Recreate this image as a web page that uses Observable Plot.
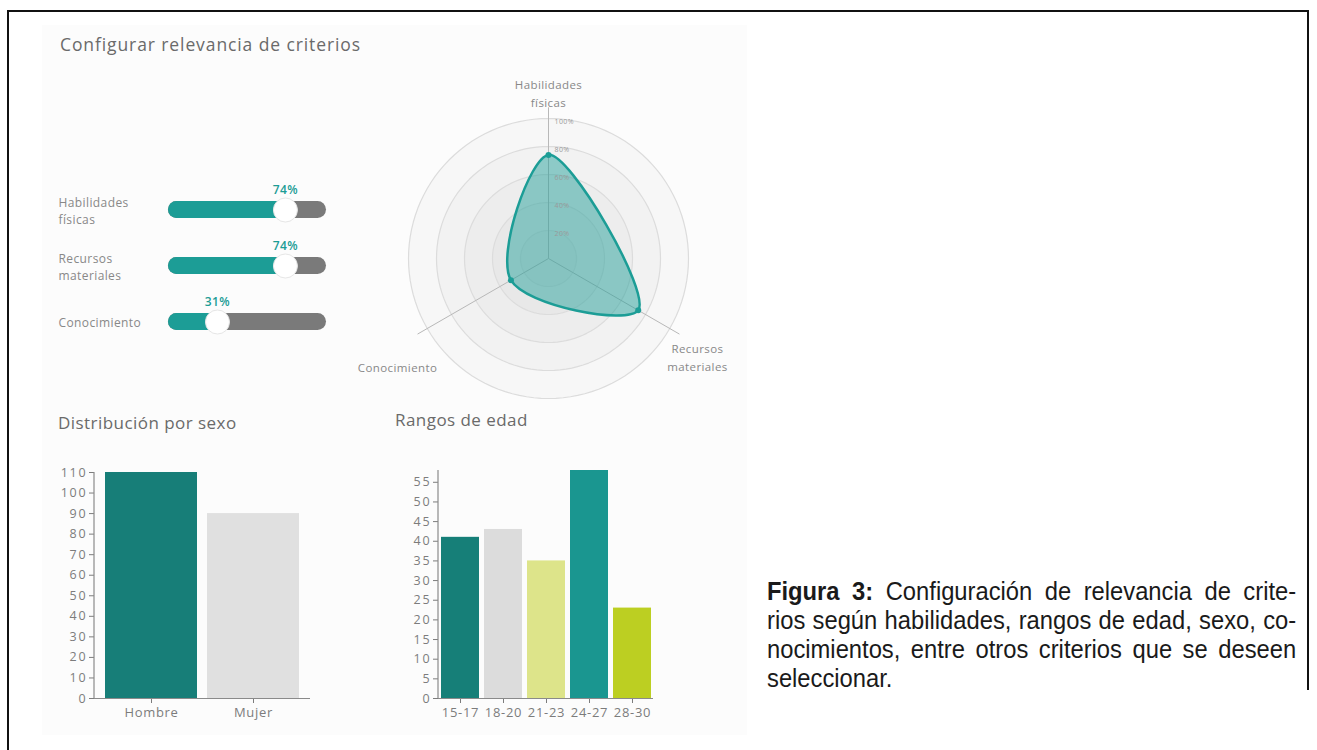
<!DOCTYPE html>
<html><head><meta charset="utf-8">
<script src="https://cdn.jsdelivr.net/npm/d3@7"></script>
<script src="https://cdn.jsdelivr.net/npm/@observablehq/plot@0.6"></script>
<style>
body{margin:0;width:1317px;height:750px;position:relative;background:#fff;overflow:hidden;font-family:"Open Sans",sans-serif}
.abs{position:absolute}
.title{position:absolute;color:#6a6a6a;font-size:17px;letter-spacing:0.45px;white-space:nowrap}
#caption{position:absolute;left:767px;top:577px;width:557px;transform:scaleX(0.95);transform-origin:0 0;font-family:"Liberation Sans",Arial,sans-serif;font-size:25px;line-height:29px;color:#1a1a1a}
#caption div{height:29px;text-align:justify;text-align-last:justify;white-space:nowrap}
#caption div.last{text-align-last:left}
#sex g[aria-label="y-axis tick label"] text, #age g[aria-label="y-axis tick label"] text{letter-spacing:1.8px}
#sex g[aria-label="x-axis tick label"] text, #age g[aria-label="x-axis tick label"] text{letter-spacing:0.7px}
#sliders text, #radar text{letter-spacing:0.4px}
</style></head><body>
<div class="abs" style="left:7px;top:10px;width:1302px;height:2px;background:#111"></div>
<div class="abs" style="left:7px;top:10px;width:2px;height:740px;background:#111"></div>
<div class="abs" style="left:1307px;top:10px;width:2px;height:680px;background:#111"></div>
<div class="abs" style="left:42px;top:25px;width:705px;height:710px;background:#fcfcfc"></div>
<div class="title" style="left:60px;top:32px;font-size:17.5px;letter-spacing:0.9px">Configurar relevancia de criterios</div>
<div class="title" style="left:58px;top:411px">Distribución por sexo</div>
<div class="title" style="left:395px;top:408px">Rangos de edad</div>
<div id="sliders" class="abs" style="left:40px;top:170px"></div>
<div id="radar" class="abs" style="left:338px;top:70px"></div>
<div id="sex" class="abs" style="left:40px;top:430px"></div>
<div id="age" class="abs" style="left:390px;top:430px"></div>
<div id="caption">
<div><b>Figura 3:</b> Configuración de relevancia de crite-</div>
<div>rios según habilidades, rangos de edad, sexo, co-</div>
<div>nocimientos, entre otros criterios que se deseen</div>
<div class="last">seleccionar.</div>
</div>
<script>
// ---- data ----
const criteria = ["Habilidades físicas", "Recursos materiales", "Conocimiento"];
const criteriaLabels = ["Habilidades\nfísicas", "Recursos\nmateriales", "Conocimiento"];
const relevance = [74, 74, 31];
const axisAngles = [0, 120, 240];
const radarLevels = [20, 40, 60, 80, 100];
const sexes = ["Hombre", "Mujer"];
const sexCounts = [110, 90];
const sexColors = ["#177e78", "#e0e0e0"];
const ageRanges = ["15-17", "18-20", "21-23", "24-27", "28-30"];
const ageCounts = [41, 43, 35, 58, 23];
const ageColors = ["#167f78", "#dcdcdc", "#dde48a", "#1a9690", "#bccf22"];
const sexTicks = d3.range(0, 111, 10);
const ageTicks = d3.range(0, 56, 5);

const TEAL = "#1c9d96";
const GREY_TXT = "#888";
const AXIS_TXT = "#7c7c7c";
const FONT = "'Open Sans', sans-serif";

// ---- sliders ----
const sliderData = criteria.map((c, i) => ({c, label: criteriaLabels[i], v: relevance[i]}));
document.getElementById("sliders").append(Plot.plot({
  width: 300, height: 190, marginLeft: 18,
  style: {fontFamily: FONT, background: "transparent", color: GREY_TXT},
  x: {domain: [0, 100], range: [128, 286], axis: null},
  y: {type: "band", domain: criteria, range: [10.75, 180.25], paddingInner: 0.7, paddingOuter: 0.35, axis: null},
  marks: [
    Plot.barX(sliderData, {y: "c", x1: 0, x2: 100, fill: "#7a7a7a", rx: 8.5}),
    Plot.barX(sliderData, {y: "c", x1: 0, x2: "v", fill: TEAL, rx: 8.5}),
    Plot.dot(sliderData, {y: "c", x: "v", r: 12, fill: "#fff", stroke: "#e6e6e6", strokeWidth: 1}),
    Plot.text(sliderData, {y: "c", x: "v", text: d => d.v + "%", dy: -20, fill: TEAL, fontSize: 12, fontWeight: 600}),
    Plot.text(sliderData, {y: "c", text: "label", frameAnchor: "left", textAnchor: "start", lineHeight: 1.4, fontSize: 12, fill: GREY_TXT})
  ]
}));

// ---- radar ----
const deg = Math.PI / 180;
const AX = 1.08;
const radarPts = sliderData.map((d, i) => ({...d, x: d.v / 100 * Math.sin(axisAngles[i] * deg), y: d.v / 100 * Math.cos(axisAngles[i] * deg)}));
const axisEnds = criteria.map((c, i) => ({i, label: criteriaLabels[i], x: AX * Math.sin(axisAngles[i] * deg), y: AX * Math.cos(axisAngles[i] * deg)}));
const ringPts = radarLevels.slice().reverse().flatMap(l => d3.range(0, 360, 3).map(t => ({l, x: l / 100 * Math.sin(t * deg), y: l / 100 * Math.cos(t * deg)})));
const lblStyle = {text: "label", fontSize: 11.5, fill: GREY_TXT, lineHeight: 1.55};
document.getElementById("radar").append(Plot.plot({
  width: 420, height: 330, margin: 0,
  style: {fontFamily: FONT, background: "transparent"},
  x: {domain: [-1.5, 1.5], range: [0, 420], axis: null},
  y: {domain: [-1.0143, 1.3429], range: [330, 0], axis: null},
  marks: [
    Plot.line(ringPts, {x: "x", y: "y", z: "l", curve: "linear-closed", fill: "#8c8c8c", fillOpacity: 0.045, stroke: "#dcdcdc", strokeWidth: 1.2}),
    Plot.link(axisEnds, {x1: 0, y1: 0, x2: "x", y2: "y", stroke: "#b8b8b8", strokeWidth: 1}),
    Plot.line(radarPts, {x: "x", y: "y", curve: "catmull-rom-closed", fill: TEAL, fillOpacity: 0.47, stroke: TEAL, strokeWidth: 2.5}),
    Plot.dot(radarPts, {x: "x", y: "y", r: 3, fill: TEAL}),
    Plot.text(radarLevels, {x: 0, y: d => d / 100, text: d => d + "%", dx: 6, dy: 3, textAnchor: "start", fontSize: 7, fill: "#9a9a9a"}),
    Plot.text(axisEnds, {...lblStyle, filter: d => d.i === 0, x: "x", y: "y", dy: -15}),
    Plot.text(axisEnds, {...lblStyle, filter: d => d.i === 1, x: "x", y: "y", dx: 18, dy: 22}),
    Plot.text(axisEnds, {...lblStyle, filter: d => d.i === 2, x: "x", y: "y", dx: -20, dy: 32})
  ]
}));

// axis line helper (left edge of the frame)
const yAxisLine = (index, scales, values, dims) => {
  const g = d3.create("svg:line")
    .attr("x1", dims.marginLeft).attr("x2", dims.marginLeft)
    .attr("y1", dims.marginTop).attr("y2", dims.height - dims.marginBottom)
    .attr("stroke", "#8a8a8a").attr("stroke-width", 1.2);
  return g.node();
};

// ---- sex ----
const sexData = sexes.map((s, i) => ({s, n: sexCounts[i]}));
document.getElementById("sex").append(Plot.plot({
  width: 290, height: 300, marginLeft: 54, marginRight: 20, marginTop: 42, marginBottom: 32,
  style: {fontFamily: FONT, background: "transparent", color: AXIS_TXT, fontSize: "12px"},
  x: {domain: sexes, padding: 0.1, label: null},
  y: {domain: [0, 110], label: null},
  color: {domain: sexes, range: sexColors},
  marks: [
    Plot.barY(sexData, {x: "s", y: "n", fill: "s"}),
    Plot.axisY({ticks: sexTicks, tickSize: 5, tickPadding: 2, fontSize: 12.5, label: null}),
    Plot.axisX({tickSize: 5, fontSize: 13, label: null, tickPadding: 4}),
    Plot.ruleY([0], {stroke: "#8a8a8a", strokeWidth: 1.2}),
    yAxisLine
  ]
}));

// ---- age ----
const ageData = ageRanges.map((a, i) => ({a, n: ageCounts[i]}));
document.getElementById("age").append(Plot.plot({
  width: 290, height: 300, marginLeft: 48, marginRight: 27, marginTop: 40, marginBottom: 32,
  style: {fontFamily: FONT, background: "transparent", color: AXIS_TXT, fontSize: "12px"},
  x: {domain: ageRanges, paddingInner: 0.12, paddingOuter: 0.05, label: null},
  y: {domain: [0, 58], label: null},
  color: {domain: ageRanges, range: ageColors},
  marks: [
    Plot.barY(ageData, {x: "a", y: "n", fill: "a"}),
    Plot.axisY({ticks: ageTicks, tickSize: 5, tickPadding: 2, fontSize: 12.5, label: null}),
    Plot.axisX({tickSize: 5, fontSize: 13, label: null, tickPadding: 4}),
    Plot.ruleY([0], {stroke: "#8a8a8a", strokeWidth: 1.2}),
    yAxisLine
  ]
}));
</script>
</body></html>
